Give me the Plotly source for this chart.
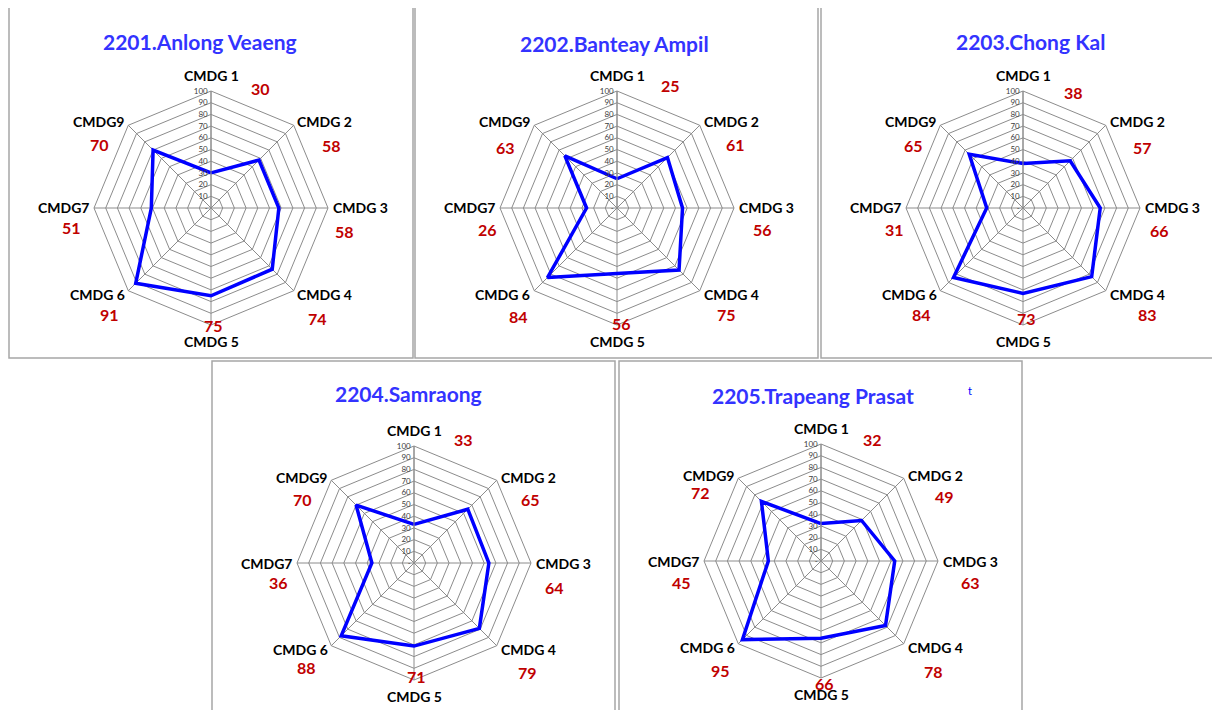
import plotly.graph_objects as go

# axes of each radar, clockwise from the top
categories = ["CMDG 1", "CMDG 2", "CMDG 3", "CMDG 4", "CMDG 5", "CMDG 6", "CMDG7", "CMDG9"]

districts = ["2201.Anlong Veaeng", "2202.Banteay Ampil", "2203.Chong Kal",
             "2204.Samraong", "2205.Trapeang Prasat"]

anlong_veaeng = [30, 58, 58, 74, 75, 91, 51, 70]
banteay_ampil = [25, 61, 56, 75, 56, 84, 26, 63]
chong_kal = [38, 57, 66, 83, 73, 84, 31, 65]
samraong = [33, 65, 64, 79, 71, 88, 36, 70]
trapeang_prasat = [32, 49, 63, 78, 66, 95, 45, 72]

radial_ticks = [0, 10, 20, 30, 40, 50, 60, 70, 80, 90, 100]

series = [anlong_veaeng, banteay_ampil, chong_kal, samraong, trapeang_prasat]

# the page body adds an 8px margin, so the figure is drawn 8px smaller and shifted
PAGE = 8
W, H = 1220 - PAGE, 710 - PAGE
R = 117

# pixel layout of each panel (window coordinates): chart centre, box, title centre
centers = [(211, 208), (617, 208), (1023, 208), (414, 563), (821, 561)]
boxes = [(9, 6, 413, 358), (415, 6, 818, 358), (821, 6, 1219, 358),
         (212, 361, 615, 716), (619, 361, 1022, 716)]
title_pos = [(200, 42), (614, 43), (1030, 42), (408, 393), (813, 395)]

# category label offsets from the chart centre
cat_off = [(0, -133), (114, -86), (149, 0), (114, 86), (0, 133), (-114, 86), (-148, 0), (-113, -86)]

# value label offsets, per panel
val_off = [
    [(49, -120), (120, -63), (133, 23), (106, 110), (2, 118), (-102, 107), (-140, 19), (-112, -64)],
    [(53, -123), (118, -64), (145, 21), (109, 106), (4, 115), (-99, 108), (-130, 21), (-111, -61)],
    [(50, -116), (119, -61), (136, 22), (124, 107), (3, 110), (-102, 107), (-129, 21), (-110, -63)],
    [(49, -124), (116, -63), (140, 24), (113, 109), (2, 113), (-108, 104), (-136, 19), (-112, -64)],
    [(51, -122), (123, -65), (149, 21), (112, 110), (3, 122), (-101, 109), (-140, 21), (-120, -69)],
]

FONT = "Lato"
GRID = "#8c8c8c"


def fx(x):
    return (x - PAGE) / W


def fy(y):
    return 1 - (y - PAGE) / H


def label(x, y, text, size, color):
    return dict(x=fx(x), y=fy(y), xref="paper", yref="paper", text=text,
                xanchor="center", yanchor="middle", showarrow=False,
                font=dict(family=FONT, size=size, color=color))


fig = go.Figure()
annotations = []
shapes = []

for i, (name, vals) in enumerate(zip(districts, series)):
    cx, cy = centers[i]
    pid = "polar" if i == 0 else f"polar{i + 1}"

    fig.add_trace(go.Scatterpolar(
        r=vals + vals[:1],
        theta=categories + categories[:1],
        mode="lines",
        line=dict(color="#0000FF", width=3.5),
        subplot=pid,
        showlegend=False,
    ))

    fig.update_layout(**{pid: dict(
        domain=dict(x=[fx(cx - R), fx(cx + R)], y=[fy(cy + R), fy(cy - R)]),
        gridshape="linear",
        bgcolor="white",
        radialaxis=dict(
            range=[0, 100], angle=90, tickangle=90, side="counterclockwise",
            tickvals=radial_ticks,
            ticktext=["-" if t == 0 else str(t) for t in radial_ticks],
            tickfont=dict(family=FONT, size=8, color="#404040"),
            showline=True, linecolor=GRID, linewidth=1,
            gridcolor=GRID, gridwidth=1, ticks="",
        ),
        angularaxis=dict(
            type="category", categoryarray=categories,
            direction="clockwise", rotation=90,
            showticklabels=False, ticks="",
            showline=True, linecolor=GRID, linewidth=1,
            gridcolor=GRID, gridwidth=1,
        ),
    )})

    x0, y0, x1, y1 = boxes[i]
    shapes.append(dict(type="rect", xref="paper", yref="paper",
                       x0=fx(x0), x1=fx(x1), y0=fy(y1), y1=fy(y0),
                       line=dict(color="#a6a6a6", width=1.5), layer="below"))

    tx, ty = title_pos[i]
    annotations.append(label(tx, ty, f"<b>{name}</b>", 21, "#3333FF"))

    for j, cat in enumerate(categories):
        annotations.append(label(cx + cat_off[j][0], cy + cat_off[j][1], f"<b>{cat}</b>", 14, "black"))
        annotations.append(label(cx + val_off[i][j][0], cy + val_off[i][j][1], f"<b>{vals[j]}</b>", 16, "#C00000"))

# stray glyph in the last panel
annotations.append(label(970, 390, "t", 11, "#0000FF"))

fig.update_layout(
    width=W, height=H,
    margin=dict(l=0, r=0, t=0, b=0),
    paper_bgcolor="white",
    plot_bgcolor="white",
    annotations=annotations,
    shapes=shapes,
)

fig.write_html("out.html")
